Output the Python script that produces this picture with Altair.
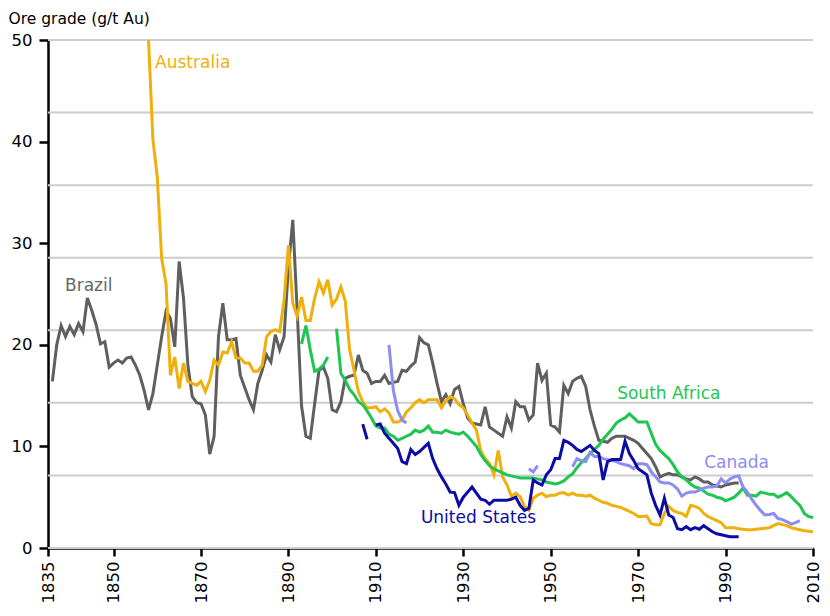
import altair as alt
import pandas as pd

# ---------------- data ----------------
brazil_years = list(range(1836, 1994))
brazil_values = [
    16.4, 20.0, 21.9, 20.8, 21.8, 21.0, 22.1, 21.3, 24.6, 23.4,   # 1836-1845
    22.0, 20.1, 20.3, 17.8, 18.2, 18.5, 18.2, 18.7, 18.8, 18.0,   # 1846-1855
    17.0, 15.5, 13.6, 15.2, 18.0, 20.8, 23.3, 22.6, 19.8, 28.2,   # 1856-1865
    24.6, 18.0, 14.9, 14.3, 14.2, 13.1, 9.25, 11.0, 20.8, 24.1,   # 1866-1875
    20.5, 20.5, 20.6, 17.0, 15.8, 14.6, 13.6, 16.2, 17.5, 19.0,   # 1876-1885
    18.3, 21.0, 19.5, 20.8, 27.7, 32.3, 23.4, 14.0, 11.0, 10.8,   # 1886-1895
    14.2, 17.5, 17.8, 16.7, 13.6, 13.4, 14.4, 16.7, 16.9, 17.0,   # 1896-1905
    19.0, 17.5, 17.2, 16.2, 16.4, 16.4, 17.0, 16.2, 16.3, 16.4,   # 1906-1915
    17.5, 17.4, 17.9, 18.3, 20.7, 20.2, 20.0, 18.2, 16.2, 14.4,   # 1916-1925
    15.1, 14.2, 15.6, 15.9, 14.2, 12.8, 12.3, 12.2, 12.1, 13.9,   # 1926-1935
    11.9, 11.6, 11.3, 11.0, 12.9, 11.8, 14.4, 13.9, 13.9, 12.6,   # 1936-1945
    13.1, 18.2, 16.5, 17.2, 12.1, 11.9, 11.4, 16.0, 15.2, 16.4,   # 1946-1955
    16.7, 16.9, 15.9, 13.6, 12.0, 10.6, 10.5, 10.4, 10.8, 11.0,   # 1956-1965
    11.0, 11.0, 10.8, 10.6, 10.3, 9.8, 9.3, 8.8, 8.0, 7.0,        # 1966-1975
    7.2, 7.35, 7.2, 7.2, 7.0, 6.8, 6.7, 7.0, 6.8, 6.5,            # 1976-1985
    6.5, 6.2, 6.1, 6.0, 6.2, 6.3, 6.4, 6.4,                       # 1986-1993
]
brazil_values = brazil_values[:len(brazil_years)]

australia_years = list(range(1858, 2011))
australia_values = [
    50.0, 40.2, 36.5, 28.5, 26.0, 17.0, 18.8, 15.7, 18.2, 16.4,   # 1858-1867
    16.2, 16.0, 16.4, 15.4, 16.5, 18.5, 18.0, 19.3, 19.2, 20.3,   # 1868-1877
    18.7, 18.7, 18.2, 18.2, 17.4, 17.4, 18.0, 20.8, 21.3, 21.5,   # 1878-1887
    21.3, 24.4, 29.8, 24.1, 22.8, 24.7, 22.4, 22.4, 24.6, 26.2,   # 1888-1897
    25.1, 26.4, 23.9, 24.5, 25.7, 24.3, 19.5, 17.5, 15.4, 14.4,   # 1898-1907
    13.8, 13.8, 13.9, 13.4, 13.7, 13.3, 12.4, 12.4, 12.6, 13.4,   # 1908-1917
    13.8, 14.3, 14.6, 14.3, 14.6, 14.6, 14.6, 13.8, 14.5, 14.9,   # 1918-1927
    14.7, 14.1, 13.8, 13.1, 12.3, 11.6, 9.6, 8.8, 8.3, 7.2,       # 1928-1937
    9.6, 7.0, 6.2, 5.1, 5.4, 5.05, 4.1, 3.7, 4.9, 5.2,            # 1938-1947
    5.4, 5.05, 5.2, 5.2, 5.4, 5.45, 5.2, 5.4, 5.2, 5.2,           # 1948-1957
    5.1, 5.2, 4.9, 4.7, 4.5, 4.4, 4.2, 4.1, 4.0, 3.8,             # 1958-1967
    3.6, 3.4, 3.1, 3.1, 3.15, 2.4, 2.3, 2.3, 3.4, 4.1,            # 1968-1977
    3.7, 3.5, 3.4, 3.1, 4.2, 4.1, 3.9, 3.4, 3.1, 2.9,             # 1978-1987
    2.7, 2.5, 2.0, 2.0, 2.0, 1.9, 1.85, 1.8, 1.8, 1.85,           # 1988-1997
    1.9, 1.95, 2.0, 2.2, 2.4, 2.3, 2.2, 2.0, 1.9, 1.8,            # 1998-2007
    1.7, 1.65, 1.6,                                               # 2008-2010
]

sa_years_1 = list(range(1893, 1900))
sa_values_1 = [20.1, 21.9, 19.5, 17.4, 17.6, 18.0, 18.8]
sa_years_2 = list(range(1901, 2011))
sa_values_2 = [
    21.6, 17.2, 16.5, 15.6, 15.1, 14.4, 14.1, 13.5, 12.8, 12.0,   # 1901-1910
    11.8, 11.8, 11.2, 11.0, 10.6, 10.8, 11.0, 11.2, 11.6, 11.4,   # 1911-1920
    11.6, 12.0, 11.4, 11.4, 11.3, 11.6, 11.4, 11.3, 11.2, 11.4,   # 1921-1930
    11.0, 10.5, 10.0, 9.2, 8.6, 8.1, 7.8, 7.6, 7.4, 7.2,          # 1931-1940
    7.1, 7.0, 6.9, 6.9, 6.9, 6.9, 6.8, 6.7, 6.5, 6.4,             # 1941-1950
    6.3, 6.4, 6.6, 7.0, 7.3, 7.9, 8.4, 8.8, 9.3, 9.7,             # 1951-1960
    10.1, 10.7, 11.2, 11.7, 12.3, 12.6, 12.8, 13.2, 12.8, 12.4,   # 1961-1970
    12.4, 12.4, 11.3, 10.2, 9.6, 9.2, 8.8, 8.2, 7.5, 7.0,         # 1971-1980
    6.7, 6.3, 6.0, 5.9, 5.6, 5.3, 5.2, 5.0, 4.9, 4.65,            # 1981-1990
    4.8, 5.0, 5.4, 5.9, 5.2, 5.2, 5.1, 5.5, 5.4, 5.3,             # 1991-2000
    5.3, 5.0, 5.2, 5.45, 5.05, 4.6, 4.2, 3.4, 3.1, 3.0,           # 2001-2010
]

us_years_1 = [1907, 1908]
us_values_1 = [12.2, 10.7]
us_years_2 = list(range(1910, 1994))
us_values_2 = [
    12.1, 12.2, 11.3, 10.8, 10.3, 9.8, 8.5, 8.3, 9.7, 9.2,        # 1910-1919
    9.5, 9.9, 10.3, 8.8, 7.8, 7.0, 6.3, 5.5, 5.45, 4.2,           # 1920-1929
    5.0, 5.5, 6.0, 5.4, 4.8, 4.7, 4.3, 4.7, 4.7, 4.7,             # 1930-1939
    4.7, 4.8, 5.0, 4.2, 3.7, 3.9, 6.7, 6.4, 6.2, 7.2,             # 1940-1949
    7.7, 8.8, 8.8, 10.6, 10.4, 10.1, 9.7, 9.5, 9.8, 10.1,         # 1950-1959
    9.6, 9.3, 6.7, 8.5, 8.7, 8.7, 8.7, 10.5, 9.3, 8.6,            # 1960-1969
    7.8, 7.5, 7.2, 5.4, 4.2, 3.25, 4.9, 3.25, 3.0, 1.9,           # 1970-1979
    1.8, 2.1, 1.8, 2.0, 1.85, 2.2, 1.9, 1.6, 1.4, 1.3,            # 1980-1989
    1.2, 1.1, 1.1, 1.1,                                           # 1990-1993
]

canada_years_1 = [1913, 1914, 1915, 1916, 1917]
canada_values_1 = [20.0, 15.5, 13.5, 12.6, 12.3]
canada_years_2 = [1945, 1946, 1947]
canada_values_2 = [7.8, 7.5, 8.1]
canada_years_3 = list(range(1955, 2008))
canada_values_3 = [
    8.0, 8.8, 8.6, 8.5, 9.4, 9.0, 9.0, 8.8, 8.7, 8.6,             # 1955-1964
    8.5, 8.3, 8.2, 8.1, 7.8, 8.3, 8.3, 8.2, 7.5, 7.0,             # 1965-1974
    6.5, 6.4, 6.4, 6.2, 5.8, 5.1, 5.4, 5.5, 5.5, 5.7,             # 1975-1984
    5.9, 6.0, 6.0, 6.1, 6.8, 6.4, 6.8, 7.0, 7.1, 6.0,             # 1985-1994
    5.5, 4.8, 4.2, 3.7, 3.25, 3.3, 3.4, 2.9, 2.8, 2.6,            # 1995-2004
    2.35, 2.5, 2.7,                                               # 2005-2007
]

series_names = ["Brazil", "Australia", "South Africa", "Canada", "United States"]
series_colors = ["#5f5f5f", "#efb00c", "#1ec552", "#8c8cf2", "#0b0ba6"]
label_colors = ["#666666", "#efb00c", "#1ec552", "#8c8cf2", "#0b0ba6"]

# label anchors (year, value) for the inline series names
label_names = ["Australia", "Brazil", "South Africa", "Canada", "United States"]
label_years = [1859.5, 1838.9, 1965.2, 1985.1, 1920.3]
label_values = [47.7, 25.8, 15.2, 8.4, 2.95]

x_ticks = [1835, 1850, 1870, 1890, 1910, 1930, 1950, 1970, 1990, 2010]
y_ticks = [0, 10, 20, 30, 40, 50]
grid_values = [0, 50 / 7, 100 / 7, 150 / 7, 200 / 7, 250 / 7, 300 / 7, 50]
y_title = "Ore grade (g/t Au)"

# ---------------- build table ----------------
segments = [
    ("Brazil", "Brazil-1", brazil_years, brazil_values),
    ("Australia", "Australia-1", australia_years, australia_values),
    ("South Africa", "SA-1", sa_years_1, sa_values_1),
    ("South Africa", "SA-2", sa_years_2, sa_values_2),
    ("Canada", "CA-1", canada_years_1, canada_values_1),
    ("Canada", "CA-2", canada_years_2, canada_values_2),
    ("Canada", "CA-3", canada_years_3, canada_values_3),
    ("United States", "US-1", us_years_1, us_values_1),
    ("United States", "US-2", us_years_2, us_values_2),
]
rows = []
for name, seg, ys, vs in segments:
    for y, v in zip(ys, vs):
        rows.append({"series": name, "segment": seg, "year": y, "value": v})
df = pd.DataFrame(rows)

labels_df = pd.DataFrame({
    "series": label_names, "year": label_years, "value": label_values,
})
grid_df = pd.DataFrame({"g": grid_values})

W, H = 765, 508
FONT = "DejaVu Sans"

x_scale = alt.Scale(domain=[1835, 2010], nice=False, zero=False)
y_scale = alt.Scale(domain=[0, 50], nice=False)

x_axis = alt.Axis(
    values=x_ticks, format="d", labelAngle=270, title=None, grid=False,
    domainColor="black", domainWidth=2.5, tickColor="black", tickWidth=2.5,
    tickSize=8, labelFontSize=16.5, labelColor="black", labelFont=FONT,
    labelPadding=5, labelFlush=False, labelOverlap=False,
)
y_axis = alt.Axis(
    values=y_ticks, title=y_title, grid=False,
    domainColor="black", domainWidth=2.5, tickColor="black", tickWidth=2.5,
    tickSize=9, labelFontSize=16.5, labelColor="black", labelFont=FONT,
    labelPadding=7, labelFlush=False,
    titleAngle=0, titleAlign="left", titleBaseline="alphabetic",
    titleX=-40, titleY=-17, titleFontSize=15.5, titleFont=FONT,
    titleFontWeight="normal", titleColor="black",
)

grid = alt.Chart(grid_df).mark_rule(color="#cccccc", strokeWidth=2).encode(
    y=alt.Y("g:Q", scale=y_scale, axis=y_axis),
    x=alt.value(0),
    x2=alt.value(W),
)

lines = alt.Chart(df).mark_line(strokeWidth=3, strokeJoin="miter", strokeCap="butt").encode(
    x=alt.X("year:Q", scale=x_scale, axis=x_axis),
    y=alt.Y("value:Q", scale=y_scale, axis=y_axis),
    color=alt.Color("series:N", scale=alt.Scale(domain=series_names, range=series_colors), legend=None),
    detail="segment:N",
    order="year:Q",
)

texts = alt.Chart(labels_df).mark_text(
    align="left", baseline="middle", fontSize=17, font=FONT
).encode(
    x=alt.X("year:Q", scale=x_scale, axis=x_axis),
    y=alt.Y("value:Q", scale=y_scale, axis=y_axis),
    text="series:N",
    color=alt.Color("series:N", scale=alt.Scale(domain=series_names, range=label_colors), legend=None),
)

chart = (
    alt.layer(grid, lines, texts)
    .resolve_scale(color="independent")
    .properties(
        width=W, height=H,
        autosize=alt.AutoSizeParams(type="none"),
        padding={"left": 40, "top": 32, "right": 9, "bottom": 60},
        background="white",
    )
    .configure(font=FONT, style={"guide-label": {"font": FONT}, "guide-title": {"font": FONT}})
    .configure_view(stroke=None)
    .configure_axis(labelFont=FONT, titleFont=FONT)
)

chart.save("out.html", embed_options={"renderer": "svg", "actions": False})
